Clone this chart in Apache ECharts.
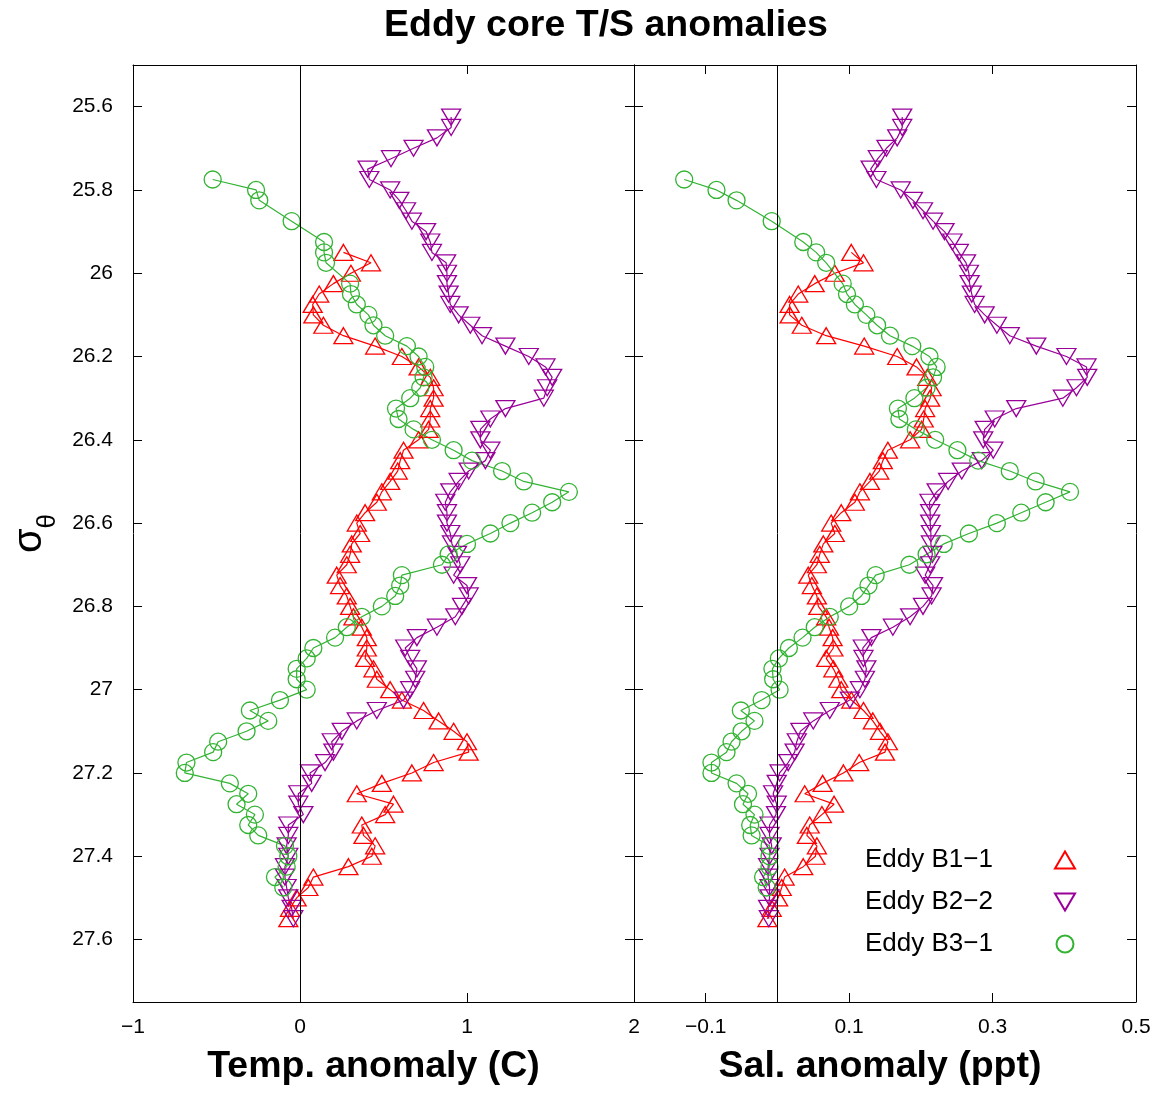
<!DOCTYPE html>
<html><head><meta charset="utf-8">
<script src="https://cdn.jsdelivr.net/npm/echarts@6/dist/echarts.min.js"></script>
<style>html,body{margin:0;padding:0;background:#fff}#c{width:1168px;height:1093px}</style>
</head><body><div id="c"></div>
<script>
// ---------- DATA ----------
const seriesNames = ['Eddy B1\u22121', 'Eddy B2\u22122', 'Eddy B3\u22121'];

const sigmaB11 = [25.95,25.975,26.0,26.025,26.05,26.075,26.1,26.125,26.15,26.175,
  26.2,26.225,26.25,26.275,26.3,26.325,26.35,26.375,26.4,26.425,
  26.45,26.475,26.5,26.525,26.55,26.575,26.6,26.625,26.65,26.675,
  26.7,26.725,26.75,26.775,26.8,26.825,26.85,26.875,26.9,26.925,
  26.95,26.975,27.0,27.025,27.05,27.075,27.1,27.125,27.15,27.175,
  27.2,27.225,27.25,27.275,27.3,27.325,27.35,27.375,27.4,27.425,
  27.45,27.475,27.5,27.525,27.55];
const tempB11 = [0.26,0.425,0.305,0.20,0.115,0.076,0.08,0.14,0.26,0.45,
  0.61,0.71,0.78,0.80,0.80,0.78,0.78,0.77,0.71,0.62,
  0.60,0.585,0.54,0.49,0.46,0.39,0.34,0.36,0.31,0.30,
  0.28,0.22,0.24,0.28,0.30,0.32,0.37,0.40,0.40,0.39,
  0.44,0.46,0.54,0.61,0.74,0.83,0.92,1.0,1.01,0.80,
  0.67,0.49,0.34,0.56,0.51,0.37,0.38,0.45,0.43,0.29,
  0.08,0.05,-0.02,-0.06,-0.07];
const salB11 = [0.103,0.12,0.08,0.052,0.029,0.017,0.017,0.034,0.068,0.121,
  0.167,0.194,0.209,0.215,0.213,0.206,0.204,0.201,0.185,0.154,
  0.147,0.142,0.129,0.115,0.108,0.089,0.075,0.080,0.064,0.059,
  0.055,0.043,0.048,0.055,0.057,0.068,0.072,0.077,0.078,0.068,
  0.078,0.085,0.089,0.103,0.12,0.133,0.143,0.154,0.15,0.114,
  0.092,0.063,0.038,0.079,0.062,0.045,0.041,0.055,0.053,0.036,
  0.010,0.006,0.001,-0.008,-0.014];

const sigmaB22 = [25.625,25.65,25.675,25.7,25.725,25.75,25.775,25.8,25.825,25.85,
  25.875,25.9,25.925,25.95,25.975,26.0,26.025,26.05,26.075,26.1,
  26.125,26.15,26.175,26.2,26.225,26.25,26.275,26.3,26.325,26.35,
  26.375,26.4,26.425,26.45,26.475,26.5,26.525,26.55,26.575,26.6,
  26.625,26.65,26.675,26.7,26.725,26.75,26.775,26.8,26.825,26.85,
  26.875,26.9,26.925,26.95,26.975,27.0,27.025,27.05,27.075,27.1,
  27.125,27.15,27.175,27.2,27.225,27.25,27.275,27.3,27.325,27.35,
  27.375,27.4,27.425,27.45,27.475,27.5,27.525,27.55];
const tempB22 = [0.905,0.905,0.82,0.68,0.545,0.405,0.415,0.54,0.595,0.635,
  0.67,0.755,0.78,0.79,0.875,0.88,0.88,0.89,0.90,0.95,
  1.02,1.09,1.23,1.37,1.47,1.51,1.48,1.46,1.23,1.14,
  1.08,1.08,1.14,1.11,1.01,0.95,0.90,0.87,0.88,0.88,
  0.90,0.91,0.94,0.96,0.92,1.0,1.01,0.97,0.93,0.82,
  0.70,0.63,0.66,0.70,0.69,0.66,0.62,0.46,0.34,0.25,
  0.19,0.20,0.15,0.06,0.07,-0.01,-0.01,0.02,-0.07,-0.07,
  -0.08,-0.07,-0.09,-0.09,-0.08,-0.07,-0.05,-0.04];
const salB22 = [0.174,0.174,0.167,0.152,0.14,0.13,0.138,0.172,0.189,0.203,
  0.217,0.233,0.244,0.253,0.263,0.267,0.268,0.271,0.275,0.289,
  0.306,0.324,0.361,0.403,0.431,0.432,0.417,0.398,0.333,0.303,
  0.289,0.287,0.301,0.285,0.257,0.238,0.222,0.212,0.213,0.213,
  0.214,0.214,0.216,0.213,0.206,0.217,0.215,0.203,0.185,0.161,
  0.131,0.119,0.12,0.124,0.122,0.115,0.101,0.073,0.05,0.032,
  0.027,0.024,0.015,0.003,-0.001,-0.006,-0.001,-0.002,-0.011,-0.011,
  -0.008,-0.011,-0.013,-0.013,-0.011,-0.011,-0.013,-0.012];

const sigmaB31 = [25.775,25.8,25.825,25.875,25.925,25.95,25.975,26.025,26.05,26.075,
  26.1,26.125,26.15,26.175,26.2,26.225,26.25,26.275,26.3,26.325,
  26.35,26.375,26.4,26.425,26.45,26.475,26.5,26.525,26.55,26.575,
  26.6,26.625,26.65,26.675,26.7,26.725,26.75,26.775,26.8,26.825,
  26.85,26.875,26.9,26.925,26.95,26.975,27.0,27.025,27.05,27.075,
  27.1,27.125,27.15,27.175,27.2,27.225,27.25,27.275,27.3,27.325,
  27.35,27.375,27.4,27.425,27.45,27.475];
const tempB31 = [-0.523,-0.263,-0.244,-0.05,0.144,0.144,0.156,0.30,0.305,0.34,
  0.41,0.44,0.51,0.64,0.71,0.75,0.74,0.72,0.66,0.575,
  0.59,0.68,0.79,0.92,1.03,1.21,1.34,1.61,1.51,1.39,
  1.26,1.14,1.00,0.89,0.85,0.61,0.60,0.57,0.49,0.37,
  0.28,0.21,0.08,0.04,-0.02,-0.02,0.04,-0.12,-0.30,-0.19,
  -0.32,-0.49,-0.52,-0.68,-0.69,-0.42,-0.31,-0.38,-0.27,-0.31,
  -0.25,-0.09,-0.07,-0.08,-0.15,-0.10];
const salB31 = [-0.130,-0.085,-0.057,-0.008,0.036,0.054,0.068,0.091,0.097,0.108,
  0.124,0.139,0.157,0.188,0.212,0.222,0.217,0.208,0.191,0.168,
  0.17,0.193,0.22,0.251,0.28,0.324,0.36,0.408,0.374,0.34,
  0.306,0.267,0.232,0.208,0.184,0.137,0.127,0.117,0.10,0.073,
  0.052,0.035,0.016,0.002,-0.007,-0.006,0.003,-0.022,-0.051,-0.032,
  -0.05,-0.064,-0.071,-0.092,-0.092,-0.057,-0.041,-0.048,-0.032,-0.038,
  -0.036,-0.011,-0.011,-0.011,-0.020,-0.015];

const sigmaTicks = [25.6,25.8,26,26.2,26.4,26.6,26.8,27,27.2,27.4,27.6];
const tempTicks = [-1,0,1,2];
const salTicks = [-0.1,0.1,0.3,0.5];

// ---------- STYLE ----------
const FONT = '"Liberation Sans", Arial, Helvetica, sans-serif';
const RED = '#ff0000', PURPLE = '#990099', GREEN = '#33b333';
const DOWN_TRI = 'path://M0,0L20,0L10,17Z';
const pair = (xs, ys) => xs.map((v, i) => [v, ys[i]]);
const fmt = v => String(v).replace('-', '\u2212');

function tick() { return {show: true, inside: true, length: 9, lineStyle: {color: '#000', width: 1}}; }

function xAxis(gridIndex, min, max, ticks, position, showLabel, name, namePad) {
  return {
    type: 'value', gridIndex, min, max, position,
    axisLine: {show: true, onZero: false, lineStyle: {color: '#000', width: 1}},
    axisTick: Object.assign(tick(), {customValues: ticks}),
    axisLabel: {show: showLabel, customValues: ticks, formatter: fmt, color: '#000',
      fontFamily: FONT, fontSize: 21, margin: 15, showMinLabel: true, showMaxLabel: true},
    splitLine: {show: false},
    name: name || '', nameLocation: 'middle', nameGap: 46,
    nameTextStyle: {fontFamily: FONT, fontSize: 37.5, fontWeight: 'bold', color: '#000',
      padding: [0, namePad || 0, 0, 0]}
  };
}
function yAxis(gridIndex, position, showLabel, withName) {
  const a = {
    type: 'value', gridIndex, min: 25.5, max: 27.75, inverse: true, position,
    axisLine: {show: true, onZero: false, lineStyle: {color: '#000', width: 1}},
    axisTick: Object.assign(tick(), {customValues: sigmaTicks}),
    axisLabel: {show: showLabel, customValues: sigmaTicks, color: '#000',
      fontFamily: FONT, fontSize: 21, margin: 20},
    splitLine: {show: false}
  };
  if (withName) {
    a.name = '{s|\u03c3}{t|\u03b8}';
    a.nameLocation = 'middle';
    a.nameRotate = 90;
    a.nameGap = 83;
    a.nameTextStyle = {color: '#000', fontFamily: FONT,
      rich: {s: {fontSize: 40, fontFamily: FONT, color: '#000', verticalAlign: 'bottom'},
             t: {fontSize: 26, fontFamily: FONT, color: '#000', verticalAlign: 'bottom', padding: [0, 0, -11, 0]}}};
  }
  return a;
}

function lineSeries(name, data, xi, symbol, size, color, withZero) {
  const s = {
    name, type: 'line', data, xAxisIndex: xi, yAxisIndex: xi,
    symbol, symbolSize: size, showSymbol: true, showAllSymbol: true,
    lineStyle: {color, width: 1.2},
    itemStyle: {color: 'rgba(255,255,255,0)', borderColor: color, borderWidth: 1.3},
    emphasis: {disabled: true}, silent: true, animation: false, clip: true
  };
  if (withZero) {
    s.markLine = {symbol: 'none', silent: true, label: {show: false},
      lineStyle: {color: '#000', width: 1, type: 'solid'}, data: [{xAxis: 0}]};
  }
  return s;
}

const option = {
  backgroundColor: '#fff',
  animation: false,
  title: {text: 'Eddy core T/S anomalies', left: 379, top: 2,
    textStyle: {fontFamily: FONT, fontSize: 37.5, fontWeight: 'bold', color: '#000'}},
  grid: [
    {left: 133, top: 65, width: 501, height: 937, containLabel: false},
    {left: 634, top: 65, width: 502, height: 937, containLabel: false}
  ],
  xAxis: [
    xAxis(0, -1, 2, tempTicks, 'bottom', true, 'Temp. anomaly (C)', 20),
    xAxis(0, -1, 2, tempTicks, 'top', false),
    xAxis(1, -0.2, 0.5, salTicks, 'bottom', true, 'Sal. anomaly (ppt)', 10),
    xAxis(1, -0.2, 0.5, salTicks, 'top', false)
  ],
  yAxis: [
    yAxis(0, 'left', true, true),
    yAxis(0, 'right', false, false),
    yAxis(1, 'left', false, false),
    yAxis(1, 'right', false, false)
  ],
  legend: {
    orient: 'vertical', left: 860, top: 842, itemGap: 16, align: 'right',
    itemWidth: 20, itemHeight: 17,
    formatter: name => '{n|' + name + '}',
    textStyle: {fontFamily: FONT, fontSize: 26, color: '#000',
      rich: {n: {width: 185, fontFamily: FONT, fontSize: 26, color: '#000', lineHeight: 26, align: 'left'}}},
    data: [
      {name: seriesNames[0], icon: 'triangle'},
      {name: seriesNames[1], icon: DOWN_TRI},
      {name: seriesNames[2], icon: 'circle'}
    ],
    selectedMode: false
  },
  series: [
    lineSeries(seriesNames[0], pair(tempB11, sigmaB11), 0, 'triangle', [19, 16], RED, true),
    lineSeries(seriesNames[1], pair(tempB22, sigmaB22), 0, DOWN_TRI, [19, 16], PURPLE, false),
    lineSeries(seriesNames[2], pair(tempB31, sigmaB31), 0, 'circle', 17, GREEN, false),
    lineSeries(seriesNames[0], pair(salB11, sigmaB11), 2, 'triangle', [19, 16], RED, true),
    lineSeries(seriesNames[1], pair(salB22, sigmaB22), 2, DOWN_TRI, [19, 16], PURPLE, false),
    lineSeries(seriesNames[2], pair(salB31, sigmaB31), 2, 'circle', 17, GREEN, false)
  ]
};

const chart = echarts.init(document.getElementById('c'), null, {renderer: 'canvas'});
chart.setOption(option);
</script>
</body></html>
